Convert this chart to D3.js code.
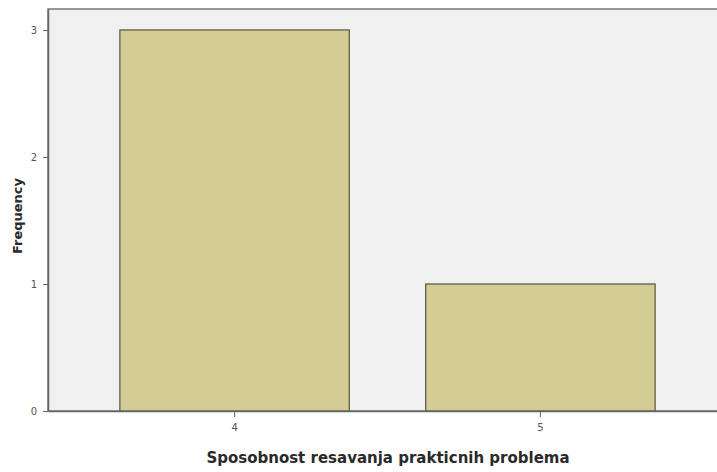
<!DOCTYPE html>
<html><head><meta charset="utf-8">
<script src="https://cdn.jsdelivr.net/npm/d3@7"></script>
<style>body{margin:0;background:#fff;} svg{display:block;}</style>
</head><body>
<svg id="c" width="717" height="472"></svg>
<script>
const categories = ["4", "5"];
const frequencies = [3, 1];
const yTicks = [0, 1, 2, 3];
const xTitle = "Sposobnost resavanja prakticnih problema";
const yTitle = "Frequency";

const svg = d3.select("#c");
const L = 48, T = 9, R = 727, B = 411;
const x = d3.scaleBand().domain(categories).range([L, R]).paddingInner(0.25).paddingOuter(0.235);
const y = d3.scaleLinear().domain([0, 3.165]).range([B, T]);

svg.append("rect").attr("x", L).attr("y", T).attr("width", R - L).attr("height", B - T)
  .attr("fill", "#f0f0f0").attr("stroke", "#777").attr("stroke-width", 1.5);

svg.selectAll(".bar").data(categories).enter().append("rect")
  .attr("x", d => x(d)).attr("width", x.bandwidth())
  .attr("y", (d, i) => y(frequencies[i])).attr("height", (d, i) => B - y(frequencies[i]))
  .attr("fill", "#d3cd95").attr("stroke", "#55533f").attr("stroke-width", 1.2);

const ya = svg.append("g").attr("transform", `translate(${L},0)`)
  .call(d3.axisLeft(y).tickValues(yTicks).tickFormat(d3.format("d")).tickSize(5).tickPadding(6).tickSizeOuter(0));
const xa = svg.append("g").attr("transform", `translate(0,${B})`)
  .call(d3.axisBottom(x).tickSize(6).tickPadding(7).tickSizeOuter(0));
[ya, xa].forEach(a => {
  a.select(".domain").attr("stroke", "#666").attr("stroke-width", 1.5);
  a.selectAll(".tick line").attr("stroke", "#666");
  a.selectAll(".tick text").attr("fill", "#555").attr("font-family", "DejaVu Sans, sans-serif").attr("font-size", 10);
});

svg.append("text").attr("x", 388).attr("y", 463).attr("text-anchor", "middle")
  .attr("font-family", "DejaVu Sans, sans-serif").attr("font-weight", "bold").attr("font-size", 15)
  .attr("fill", "#2a2a2a").text(xTitle);
svg.append("text").attr("transform", "translate(22,216) rotate(-90)").attr("text-anchor", "middle")
  .attr("font-family", "DejaVu Sans, sans-serif").attr("font-weight", "bold").attr("font-size", 13)
  .attr("fill", "#2a2a2a").text(yTitle);
</script>
</body></html>
